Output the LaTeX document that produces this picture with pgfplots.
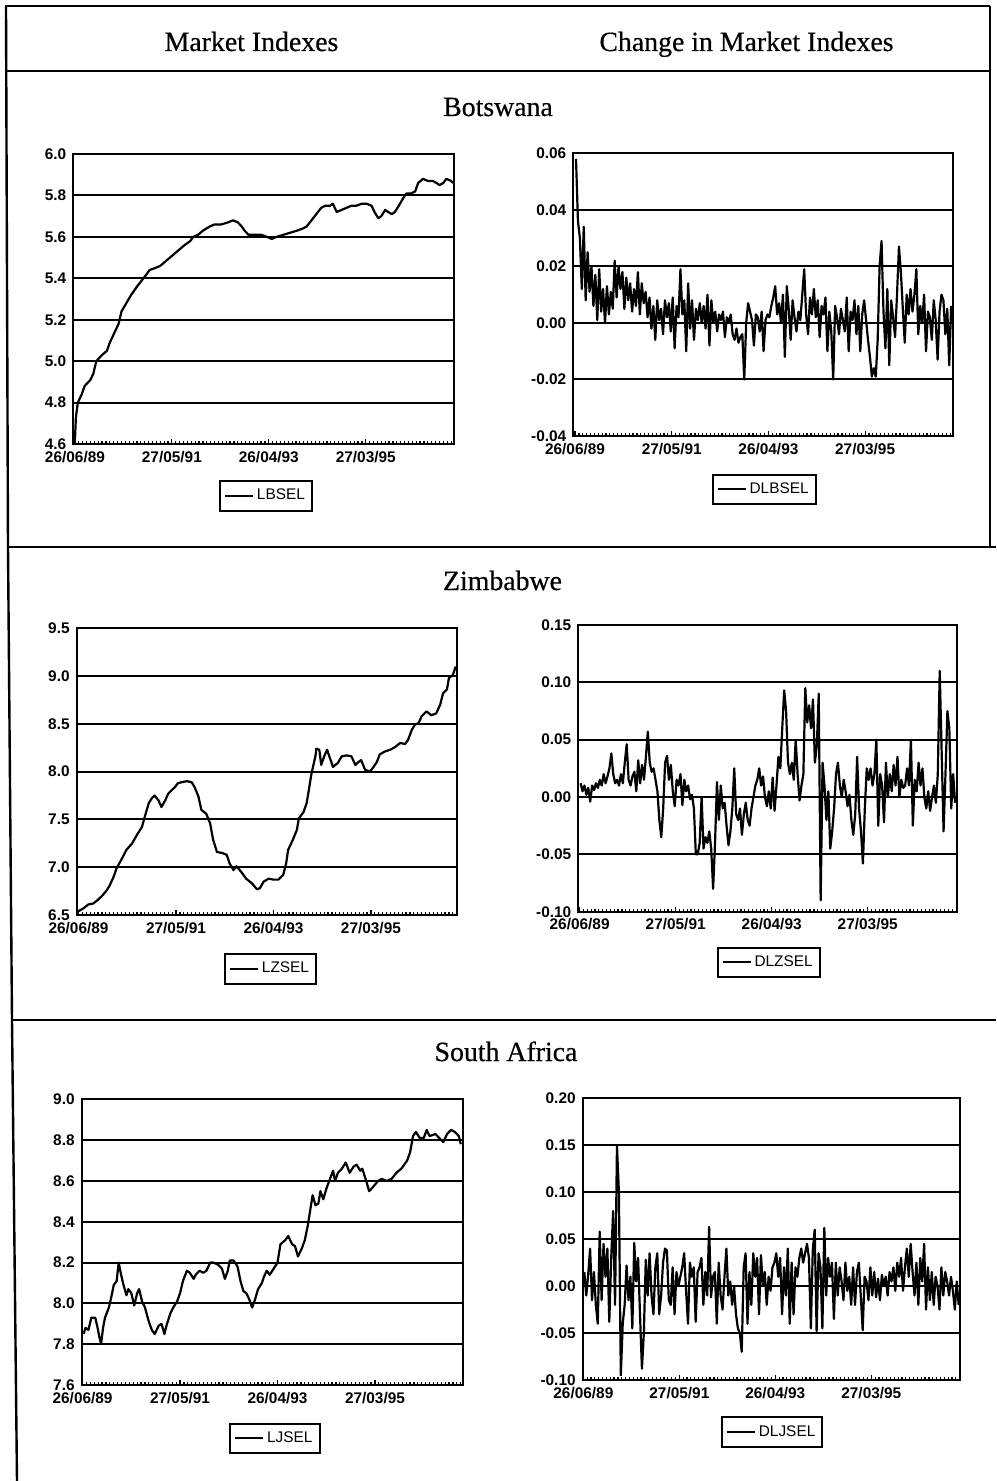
\documentclass[border=0pt]{standalone}
\usepackage{pgfplots}
\pgfplotsset{compat=1.18}
\usepackage{fontspec}
\setmainfont{Liberation Serif}
\newfontfamily\headfam{Liberation Serif}[FakeBold=0.5]
\newfontfamily\sansfam{Liberation Sans}
\newcommand\tickfont{\sansfam\bfseries\fontsize{7.7}{8}\selectfont}
\newcommand\legfont{\sansfam\fontsize{7.7}{8}\selectfont}
\newcommand\headfont{\headfam\fontsize{13.9}{16}\selectfont}
\pgfplotsset{
 ev/.style={
  scale only axis, anchor=north west,
  axis line style={line width=1pt},
  scaled y ticks=false,
  xtick={0,100,200,300},
  xticklabels={26/06/89,27/05/91,26/04/93,27/03/95},
  minor xtick={4,8,...,388},
  xtick pos=left, ytick pos=left,
  tick align=inside,
  major tick length=2.5pt, minor tick length=1.6pt,
  xtick style={black, line width=0.6pt},
  ytick style={draw=none},
  ymajorgrids, major grid style={black, line width=1pt},
  tick label style={font=\tickfont},
  legend style={draw=black, line width=1pt, inner xsep=2pt, inner ysep=2.5pt,
    nodes={inner sep=1.5pt}, font=\legfont, anchor=center},
  legend image code/.code={\draw[#1, line width=1pt] (0pt,0pt) -- (14pt,0pt);},
 },
 lev/.style={black, line width=1.1pt, line join=round, mark=none},
 dif/.style={black, line width=1.1pt, line join=round, mark=none},
}
\begin{document}
\begin{tikzpicture}
\useasboundingbox (0,0) rectangle (498pt,-740.5pt);
% frame
\draw[line width=1.2pt] (2.5pt,-3pt) -- (495pt,-3pt);
\draw[line width=1.2pt] (2.5pt,-35.5pt) -- (495pt,-35.5pt);
\draw[line width=1.1pt] (495pt,-3pt) -- (495pt,-273.5pt);
\draw[line width=1.2pt] (3pt,-3pt) -- (4pt,-273.5pt) -- (6pt,-510pt) -- (8.5pt,-740.5pt);
\draw[line width=1.3pt] (4pt,-273.5pt) -- (498pt,-273.5pt);
\draw[line width=1.3pt] (6pt,-510pt) -- (498pt,-510pt);
% titles
\node[anchor=base] at (125.75pt,-25.5pt) {\headfont Market Indexes};
\node[anchor=base] at (373.25pt,-25.5pt) {\headfont Change in Market Indexes};
\node[anchor=base] at (249pt,-58pt) {\headfont Botswana};
\node[anchor=base] at (251.25pt,-295pt) {\headfont Zimbabwe};
\node[anchor=base] at (253pt,-530.5pt) {\headfont South Africa};

% ---------------- Botswana level
\begin{axis}[ev, at={(36.65pt,-77pt)}, width=190.35pt, height=145pt,
  xmin=-1.7, xmax=391, ymin=4.6, ymax=6.0,
  ytick={4.6,4.8,5.0,5.2,5.4,5.6,5.8,6.0},
  yticklabels={4.6,4.8,5.0,5.2,5.4,5.6,5.8,6.0},
  legend style={at={(0.506,-0.179)}}]
\addplot[lev] table[row sep=\\] {x y\\
0 4.62\\ 1 4.73\\ 3 4.80\\ 7 4.84\\ 10 4.88\\ 16 4.91\\ 19 4.94\\ 22 5.00\\ 28 5.03\\ 33 5.05\\
36 5.09\\ 40 5.13\\ 45 5.18\\ 48 5.24\\ 53 5.28\\ 58 5.32\\ 64 5.36\\ 69 5.39\\ 74 5.42\\ 77 5.44\\
83 5.45\\ 88 5.46\\ 93 5.48\\ 98 5.50\\ 103 5.52\\ 108 5.54\\ 113 5.56\\ 119 5.58\\ 122 5.60\\ 127 5.61\\
132 5.63\\ 139 5.65\\ 144 5.66\\ 151 5.66\\ 158 5.67\\ 163 5.68\\ 168 5.67\\ 172 5.65\\ 175 5.63\\ 179 5.61\\
186 5.61\\ 192 5.61\\ 198 5.60\\ 203 5.59\\ 208 5.60\\ 215 5.61\\ 222 5.62\\ 229 5.63\\ 235 5.64\\ 239 5.65\\
244 5.68\\ 249 5.71\\ 254 5.74\\ 258 5.75\\ 263 5.75\\ 266 5.76\\ 270 5.72\\ 275 5.73\\ 280 5.74\\ 285 5.75\\
290 5.75\\ 296 5.76\\ 301 5.76\\ 306 5.75\\ 309 5.72\\ 313 5.69\\ 316 5.70\\ 320 5.73\\ 323 5.72\\ 327 5.71\\
330 5.72\\ 334 5.75\\ 339 5.79\\ 342 5.81\\ 347 5.81\\ 351 5.82\\ 354 5.86\\ 359 5.88\\ 364 5.87\\ 369 5.87\\
373 5.86\\ 376 5.85\\ 380 5.86\\ 383 5.88\\ 388 5.87\\ 390 5.86\\
};
\addlegendentry{LBSEL}
\end{axis}

% ---------------- Botswana change
\begin{axis}[ev, at={(286.65pt,-76.65pt)}, width=189.7pt, height=141.35pt,
  xmin=-1.8, xmax=390.6, ymin=-0.04, ymax=0.06,
  ytick={-0.04,-0.02,0,0.02,0.04,0.06},
  yticklabels={-0.04,-0.02,0.00,0.02,0.04,0.06},
  legend style={at={(0.503,-0.189)}}]
\addplot[dif] table[row sep=\\] {x y\\
1 0.058\\ 3 0.036\\ 5 0.030\\ 7 0.012\\ 9 0.034\\ 11 0.008\\ 13 0.025\\ 15 0.011\\ 17 0.020\\ 19 0.006\\
21 0.017\\ 23 0.001\\ 25 0.019\\ 27 0.004\\ 29 0.012\\ 31 0.000\\ 33 0.013\\ 35 0.003\\ 37 0.011\\ 39 0.005\\
41 0.022\\ 43 0.009\\ 45 0.020\\ 47 0.012\\ 49 0.018\\ 51 0.005\\ 53 0.016\\ 55 0.008\\ 57 0.014\\ 59 0.004\\
61 0.012\\ 63 0.006\\ 65 0.018\\ 67 0.003\\ 69 0.014\\ 71 0.007\\ 73 0.011\\ 75 0.002\\ 77 0.009\\ 79 -0.002\\
81 0.006\\ 83 -0.006\\ 85 0.008\\ 87 0.001\\ 89 0.005\\ 91 -0.004\\ 93 0.008\\ 95 0.002\\ 97 0.007\\ 99 -0.003\\
101 0.009\\ 103 -0.009\\ 105 0.006\\ 107 0.002\\ 109 0.019\\ 111 0.003\\ 113 0.008\\ 115 -0.010\\ 117 0.014\\ 119 -0.002\\
121 0.008\\ 123 -0.006\\ 125 0.005\\ 127 0.001\\ 129 0.007\\ 131 0.000\\ 133 0.006\\ 135 -0.002\\ 137 0.010\\ 139 -0.008\\
141 0.008\\ 143 0.000\\ 145 0.004\\ 147 -0.003\\ 149 0.003\\ 151 0.001\\ 153 0.004\\ 155 -0.005\\ 157 0.002\\ 159 0.000\\
161 0.003\\ 163 -0.004\\ 165 -0.006\\ 167 -0.002\\ 169 -0.007\\ 171 -0.005\\ 173 -0.004\\ 175 -0.020\\ 177 0.000\\ 179 0.007\\
181 0.004\\ 183 0.001\\ 185 -0.008\\ 187 0.003\\ 189 0.002\\ 191 -0.003\\ 193 0.004\\ 195 -0.010\\ 197 0.001\\ 199 0.003\\
201 0.002\\ 203 0.006\\ 205 0.009\\ 207 0.013\\ 209 0.003\\ 211 0.007\\ 213 0.000\\ 215 0.010\\ 217 -0.012\\ 219 0.013\\
221 0.005\\ 223 -0.006\\ 225 0.008\\ 227 0.002\\ 229 -0.003\\ 231 0.004\\ 233 0.001\\ 235 0.010\\ 237 0.019\\ 239 0.003\\
241 -0.004\\ 243 0.009\\ 245 0.003\\ 247 0.012\\ 249 0.002\\ 251 0.008\\ 253 -0.005\\ 255 0.006\\ 257 0.003\\ 259 0.009\\
261 -0.010\\ 263 0.004\\ 265 -0.003\\ 267 -0.020\\ 269 0.006\\ 271 0.002\\ 273 -0.004\\ 275 0.005\\ 277 0.001\\ 279 -0.003\\
281 0.009\\ 283 -0.010\\ 285 0.004\\ 287 0.001\\ 289 0.008\\ 291 -0.004\\ 293 0.006\\ 295 -0.010\\ 297 0.003\\ 299 0.008\\
301 0.001\\ 303 -0.006\\ 305 -0.012\\ 307 -0.019\\ 309 -0.016\\ 311 -0.019\\ 313 -0.006\\ 315 0.020\\ 317 0.029\\ 319 0.004\\
321 -0.009\\ 323 0.012\\ 325 -0.015\\ 327 0.008\\ 329 0.002\\ 331 -0.005\\ 333 0.010\\ 335 0.027\\ 337 0.018\\ 339 0.005\\
341 -0.007\\ 343 0.010\\ 345 0.003\\ 347 0.012\\ 349 0.004\\ 351 0.010\\ 353 0.019\\ 355 -0.004\\ 357 0.006\\ 359 0.000\\
361 0.010\\ 363 -0.010\\ 365 0.004\\ 367 0.002\\ 369 -0.006\\ 371 0.008\\ 373 0.001\\ 375 -0.013\\ 377 0.004\\ 379 0.010\\
381 0.008\\ 383 -0.004\\ 385 0.005\\ 387 -0.015\\ 389 0.006\\
};
\addlegendentry{DLBSEL}
\end{axis}

% ---------------- Zimbabwe level
\begin{axis}[ev, at={(38.35pt,-314.15pt)}, width=190pt, height=143.35pt,
  xmin=-1.9, xmax=388, ymin=6.5, ymax=9.5,
  ytick={6.5,7.0,7.5,8.0,8.5,9.0,9.5},
  yticklabels={6.5,7.0,7.5,8.0,8.5,9.0,9.5},
  legend style={at={(0.510,-0.188)}}]
\addplot[lev] table[row sep=\\] {x y\\
0 6.54\\ 5 6.57\\ 10 6.61\\ 15 6.62\\ 20 6.66\\ 25 6.71\\ 29 6.76\\ 32 6.81\\ 36 6.90\\ 39 6.99\\
44 7.08\\ 49 7.18\\ 55 7.25\\ 60 7.34\\ 65 7.42\\ 68 7.53\\ 72 7.67\\ 75 7.72\\ 78 7.75\\ 82 7.70\\
85 7.63\\ 89 7.70\\ 92 7.77\\ 96 7.81\\ 99 7.84\\ 102 7.88\\ 106 7.89\\ 111 7.90\\ 116 7.89\\ 119 7.84\\
123 7.74\\ 126 7.60\\ 131 7.56\\ 135 7.46\\ 138 7.29\\ 142 7.16\\ 147 7.15\\ 152 7.13\\ 155 7.04\\ 159 6.97\\
162 7.01\\ 167 6.95\\ 172 6.88\\ 178 6.83\\ 183 6.77\\ 186 6.78\\ 190 6.85\\ 195 6.88\\ 200 6.87\\ 205 6.87\\
210 6.92\\ 213 7.04\\ 215 7.18\\ 220 7.29\\ 224 7.39\\ 226 7.51\\ 231 7.58\\ 234 7.67\\ 236 7.79\\ 239 7.98\\
243 8.16\\ 244 8.24\\ 247 8.23\\ 249 8.07\\ 252 8.16\\ 255 8.23\\ 258 8.14\\ 261 8.05\\ 266 8.09\\ 270 8.16\\
275 8.17\\ 280 8.16\\ 284 8.07\\ 287 8.10\\ 290 8.12\\ 294 8.02\\ 299 8.00\\ 302 8.04\\ 306 8.10\\ 309 8.18\\
314 8.21\\ 320 8.23\\ 325 8.26\\ 330 8.30\\ 335 8.29\\ 338 8.33\\ 342 8.44\\ 345 8.49\\ 349 8.51\\ 352 8.58\\
357 8.63\\ 362 8.59\\ 367 8.61\\ 371 8.70\\ 374 8.82\\ 378 8.86\\ 380 8.98\\ 384 9.01\\ 387 9.10\\
};
\addlegendentry{LZSEL}
\end{axis}

% ---------------- Zimbabwe change
\begin{axis}[ev, at={(289.15pt,-312.5pt)}, width=189.2pt, height=143.35pt,
  xmin=-1.4, xmax=392.7, ymin=-0.10, ymax=0.15,
  ytick={-0.10,-0.05,0,0.05,0.10,0.15},
  yticklabels={-0.10,-0.05,0.00,0.05,0.10,0.15},
  legend style={at={(0.503,-0.177)}}]
\addplot[dif] table[row sep=\\] {x y\\
1 0.012\\ 3 0.005\\ 5 0.010\\ 7 0.002\\ 9 0.008\\ 11 -0.004\\ 13 0.010\\ 15 0.006\\ 17 0.012\\ 19 0.008\\
21 0.015\\ 23 0.010\\ 25 0.020\\ 27 0.012\\ 29 0.018\\ 31 0.025\\ 33 0.038\\ 35 0.020\\ 37 0.012\\ 39 0.015\\
41 0.010\\ 43 0.020\\ 45 0.012\\ 47 0.030\\ 49 0.046\\ 51 0.015\\ 53 0.010\\ 55 0.018\\ 57 0.022\\ 59 0.005\\
61 0.032\\ 63 0.012\\ 65 0.028\\ 67 0.015\\ 69 0.035\\ 71 0.057\\ 73 0.030\\ 75 0.022\\ 77 0.025\\ 79 0.015\\
81 0.005\\ 83 -0.020\\ 85 -0.035\\ 87 -0.010\\ 89 0.030\\ 91 0.036\\ 93 0.015\\ 95 0.028\\ 97 0.005\\ 99 -0.008\\
101 0.015\\ 103 0.010\\ 105 0.020\\ 107 -0.007\\ 109 0.015\\ 111 0.005\\ 113 0.010\\ 115 -0.002\\ 117 0.002\\ 119 -0.010\\
121 -0.050\\ 123 -0.050\\ 125 -0.040\\ 127 0.000\\ 129 -0.045\\ 131 -0.035\\ 133 -0.040\\ 135 -0.030\\ 137 -0.045\\ 139 -0.080\\
141 -0.040\\ 143 0.013\\ 145 -0.020\\ 147 0.010\\ 149 -0.010\\ 151 -0.005\\ 153 -0.025\\ 155 -0.042\\ 157 -0.030\\ 159 -0.010\\
161 0.025\\ 163 -0.015\\ 165 -0.020\\ 167 -0.010\\ 169 -0.033\\ 171 -0.015\\ 173 -0.005\\ 175 -0.020\\ 177 -0.025\\ 179 -0.010\\
181 0.000\\ 183 0.010\\ 185 0.015\\ 187 0.025\\ 189 0.010\\ 191 0.018\\ 193 0.000\\ 195 -0.008\\ 197 0.005\\ 199 -0.010\\
201 0.017\\ 203 -0.012\\ 205 0.010\\ 207 0.035\\ 209 0.025\\ 211 0.060\\ 213 0.093\\ 215 0.075\\ 217 0.030\\ 219 0.020\\
221 0.030\\ 223 0.015\\ 225 0.050\\ 227 0.020\\ 229 -0.003\\ 231 0.010\\ 233 0.020\\ 235 0.095\\ 237 0.065\\ 239 0.080\\
241 0.060\\ 243 0.085\\ 245 0.030\\ 247 0.045\\ 249 0.090\\ 251 -0.090\\ 253 0.030\\ 255 0.010\\ 257 -0.020\\ 259 0.005\\
261 -0.045\\ 263 -0.030\\ 265 -0.010\\ 267 0.020\\ 269 0.030\\ 271 0.010\\ 273 0.000\\ 275 0.015\\ 277 0.005\\ 279 -0.008\\
281 0.002\\ 283 -0.020\\ 285 -0.033\\ 287 -0.015\\ 289 0.035\\ 291 -0.010\\ 293 -0.030\\ 295 -0.058\\ 297 -0.010\\ 299 0.025\\
301 0.015\\ 303 0.025\\ 305 0.010\\ 307 0.020\\ 309 0.050\\ 311 -0.025\\ 313 0.020\\ 315 0.010\\ 317 -0.022\\ 319 0.030\\
321 0.000\\ 323 0.020\\ 325 0.005\\ 327 0.028\\ 329 0.010\\ 331 0.035\\ 333 0.000\\ 335 0.015\\ 337 0.008\\ 339 0.010\\
341 0.025\\ 343 0.010\\ 345 0.050\\ 347 -0.025\\ 349 0.015\\ 351 0.005\\ 353 0.030\\ 355 0.010\\ 357 0.025\\ 359 0.000\\
361 -0.010\\ 363 0.005\\ 365 -0.012\\ 367 0.000\\ 369 0.010\\ 371 -0.005\\ 373 0.020\\ 375 0.110\\ 377 0.040\\ 379 -0.030\\
381 0.020\\ 383 0.075\\ 385 0.060\\ 387 -0.010\\ 389 0.020\\ 391 -0.005\\
};
\addlegendentry{DLZSEL}
\end{axis}

% ---------------- South Africa level
\begin{axis}[ev, at={(40.85pt,-549.65pt)}, width=190.5pt, height=142.85pt,
  xmin=-0.9, xmax=390, ymin=7.6, ymax=9.0,
  ytick={7.6,7.8,8.0,8.2,8.4,8.6,8.8,9.0},
  yticklabels={7.6,7.8,8.0,8.2,8.4,8.6,8.8,9.0},
  legend style={at={(0.507,-0.187)}}]
\addplot[lev] table[row sep=\\] {x y\\
1 7.85\\ 3 7.88\\ 6 7.87\\ 9 7.93\\ 13 7.93\\ 15 7.89\\ 17 7.84\\ 19 7.80\\ 21 7.88\\ 23 7.93\\
27 7.98\\ 29 8.02\\ 32 8.09\\ 35 8.11\\ 37 8.20\\ 40 8.13\\ 42 8.09\\ 45 8.04\\ 47 8.07\\ 50 8.05\\
53 7.99\\ 56 8.05\\ 58 8.07\\ 61 8.01\\ 64 7.98\\ 68 7.91\\ 71 7.87\\ 74 7.85\\ 78 7.89\\ 81 7.90\\
84 7.85\\ 86 7.89\\ 90 7.95\\ 93 7.98\\ 97 8.01\\ 100 8.05\\ 103 8.11\\ 107 8.16\\ 110 8.15\\ 114 8.12\\
116 8.14\\ 120 8.16\\ 124 8.15\\ 127 8.16\\ 131 8.20\\ 134 8.20\\ 139 8.19\\ 143 8.17\\ 146 8.12\\ 149 8.16\\
151 8.21\\ 155 8.21\\ 159 8.18\\ 162 8.11\\ 165 8.06\\ 168 8.05\\ 171 8.02\\ 174 7.98\\ 177 8.02\\ 180 8.07\\
184 8.10\\ 186 8.13\\ 189 8.16\\ 192 8.14\\ 196 8.17\\ 200 8.20\\ 203 8.29\\ 208 8.31\\ 211 8.33\\ 215 8.29\\
218 8.28\\ 221 8.23\\ 225 8.27\\ 228 8.31\\ 231 8.38\\ 234 8.47\\ 236 8.53\\ 239 8.48\\ 242 8.49\\ 244 8.55\\
247 8.51\\ 250 8.56\\ 253 8.60\\ 257 8.65\\ 259 8.60\\ 262 8.64\\ 266 8.66\\ 270 8.69\\ 274 8.64\\ 278 8.67\\
281 8.68\\ 285 8.65\\ 287 8.66\\ 291 8.60\\ 294 8.55\\ 298 8.57\\ 303 8.60\\ 307 8.61\\ 312 8.60\\ 317 8.61\\
322 8.64\\ 327 8.66\\ 333 8.70\\ 336 8.74\\ 339 8.82\\ 342 8.84\\ 346 8.81\\ 350 8.81\\ 353 8.85\\ 356 8.82\\
362 8.83\\ 366 8.81\\ 370 8.79\\ 374 8.83\\ 378 8.85\\ 382 8.84\\ 386 8.82\\ 388 8.78\\
};
\addlegendentry{LJSEL}
\end{axis}

% ---------------- South Africa change
\begin{axis}[ev, at={(291.35pt,-549.15pt)}, width=188.65pt, height=140.85pt,
  xmin=-0.7, xmax=392.4, ymin=-0.10, ymax=0.20,
  ytick={-0.10,-0.05,0,0.05,0.10,0.15,0.20},
  yticklabels={-0.10,-0.05,0.00,0.05,0.10,0.15,0.20},
  legend style={at={(0.502,-0.185)}}]
\addplot[dif] table[row sep=\\] {x y\\
1 0.015\\ 3 -0.010\\ 5 0.012\\ 7 0.040\\ 9 -0.015\\ 11 0.015\\ 13 -0.020\\ 15 -0.040\\ 17 0.058\\ 19 -0.015\\
21 0.045\\ 23 0.010\\ 25 0.040\\ 27 -0.038\\ 29 0.030\\ 31 0.080\\ 33 -0.020\\ 35 0.150\\ 37 0.100\\ 39 -0.095\\
41 -0.040\\ 43 -0.020\\ 45 0.022\\ 47 -0.015\\ 49 0.010\\ 51 -0.045\\ 53 0.046\\ 55 0.005\\ 57 0.030\\ 59 -0.030\\
61 -0.088\\ 63 -0.050\\ 65 0.028\\ 67 -0.010\\ 69 0.035\\ 71 -0.010\\ 73 -0.030\\ 75 0.020\\ 77 0.035\\ 79 -0.030\\
81 -0.010\\ 83 0.025\\ 85 0.040\\ 87 0.038\\ 89 -0.015\\ 91 -0.020\\ 93 0.020\\ 95 -0.030\\ 97 0.015\\ 99 0.000\\
101 0.010\\ 103 0.020\\ 105 0.035\\ 107 -0.005\\ 109 -0.040\\ 111 0.025\\ 113 0.010\\ 115 0.020\\ 117 -0.038\\ 119 0.015\\
121 0.020\\ 123 0.030\\ 125 -0.020\\ 127 0.015\\ 129 -0.010\\ 131 0.063\\ 133 -0.012\\ 135 0.010\\ 137 0.015\\ 139 -0.040\\
141 0.025\\ 143 -0.010\\ 145 -0.025\\ 147 0.010\\ 149 0.040\\ 151 -0.010\\ 153 0.005\\ 155 -0.020\\ 157 0.000\\ 159 -0.030\\
161 -0.045\\ 163 -0.050\\ 165 -0.070\\ 167 0.020\\ 169 0.035\\ 171 -0.040\\ 173 0.015\\ 175 -0.020\\ 177 0.035\\ 179 0.010\\
181 0.030\\ 183 -0.030\\ 185 0.033\\ 187 0.000\\ 189 0.015\\ 191 -0.020\\ 193 0.010\\ 195 -0.005\\ 197 0.020\\ 199 0.025\\
201 0.035\\ 203 0.010\\ 205 0.030\\ 207 -0.030\\ 209 0.020\\ 211 -0.010\\ 213 0.040\\ 215 -0.040\\ 217 0.025\\ 219 -0.030\\
221 0.020\\ 223 0.010\\ 225 0.030\\ 227 0.040\\ 229 0.025\\ 231 0.035\\ 233 0.045\\ 235 0.030\\ 237 -0.045\\ 239 0.038\\
241 0.060\\ 243 -0.048\\ 245 0.035\\ 247 0.020\\ 249 -0.045\\ 251 0.062\\ 253 -0.010\\ 255 0.030\\ 257 0.010\\ 259 0.025\\
261 -0.035\\ 263 0.025\\ 265 -0.010\\ 267 0.020\\ 269 0.005\\ 271 -0.015\\ 273 0.025\\ 275 -0.005\\ 277 0.010\\ 279 -0.020\\
281 0.020\\ 283 -0.020\\ 285 0.015\\ 287 0.025\\ 289 -0.010\\ 291 -0.047\\ 293 0.010\\ 295 0.005\\ 297 -0.015\\ 299 0.020\\
301 -0.010\\ 303 0.015\\ 305 -0.012\\ 307 0.008\\ 309 -0.015\\ 311 0.012\\ 313 0.000\\ 315 0.010\\ 317 -0.010\\ 319 0.015\\
321 0.005\\ 323 0.020\\ 325 -0.005\\ 327 0.025\\ 329 0.010\\ 331 0.030\\ 333 -0.005\\ 335 0.020\\ 337 0.040\\ 339 0.010\\
341 0.045\\ 343 0.015\\ 345 -0.010\\ 347 0.025\\ 349 -0.020\\ 351 0.030\\ 353 0.005\\ 355 0.045\\ 357 -0.025\\ 359 0.020\\
361 -0.015\\ 363 0.015\\ 365 -0.020\\ 367 0.010\\ 369 0.000\\ 371 -0.025\\ 373 0.020\\ 375 -0.010\\ 377 0.015\\ 379 0.005\\
381 -0.010\\ 383 0.010\\ 385 -0.005\\ 387 -0.025\\ 389 0.005\\ 391 -0.020\\
};
\addlegendentry{DLJSEL}
\end{axis}
\end{tikzpicture}
\end{document}
